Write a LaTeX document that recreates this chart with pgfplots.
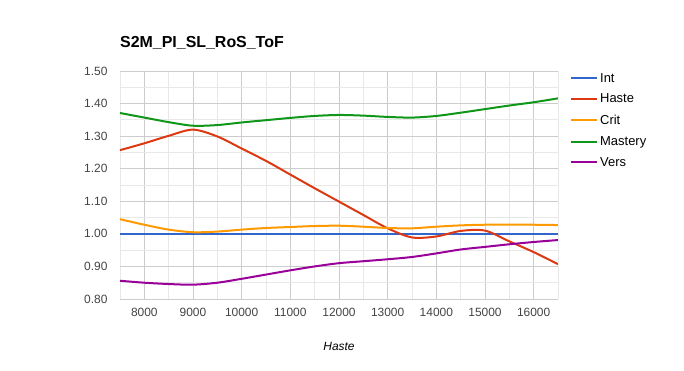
\documentclass[border=0pt]{standalone}
\usepackage{fontspec}
\setmainfont{Liberation Sans}
\usepackage{pgfplots}
\usepackage{pgfplotstable}
\pgfplotsset{compat=1.18}
\definecolor{cInt}{HTML}{3366CC}
\definecolor{cHaste}{HTML}{DC3912}
\definecolor{cCrit}{HTML}{FF9900}
\definecolor{cMast}{HTML}{109618}
\definecolor{cVers}{HTML}{990099}
\definecolor{tickgray}{HTML}{444444}

\pgfplotstableread{
x      Int   Haste  Crit   Mastery Vers
7500   1.00  1.257  1.045  1.371   0.856
8000   1.00  1.278  1.028  1.357   0.850
8500   1.00  1.301  1.013  1.343   0.846
9000   1.00  1.320  1.005  1.332   0.844
9500   1.00  1.299  1.007  1.334   0.850
10000  1.00  1.262  1.013  1.342   0.862
10500  1.00  1.224  1.018  1.349   0.875
11000  1.00  1.182  1.021  1.356   0.888
11500  1.00  1.140  1.024  1.362   0.900
12000  1.00  1.099  1.025  1.365   0.910
12500  1.00  1.058  1.022  1.363   0.916
13000  1.00  1.017  1.018  1.359   0.922
13500  1.00  0.989  1.017  1.357   0.929
14000  1.00  0.992  1.022  1.362   0.940
14500  1.00  1.009  1.026  1.372   0.952
15000  1.00  1.010  1.028  1.383   0.960
15500  1.00  0.977  1.028  1.394   0.968
16000  1.00  0.944  1.028  1.404   0.975
16500  1.00  0.907  1.027  1.416   0.981
}\datatable

\begin{document}
\begin{tikzpicture}
\path[use as bounding box] (-120bp,-72bp) rectangle (564bp,299bp);
\begin{axis}[
  at={(0,0)}, anchor=south west,
  scale only axis, width=438bp, height=228bp,
  xmin=7500, xmax=16500, ymin=0.8, ymax=1.5,
  xtick={8000,9000,10000,11000,12000,13000,14000,15000,16000},
  minor xtick={7500,8500,9500,10500,11500,12500,13500,14500,15500,16500},
  ytick={0.8,0.9,1.0,1.1,1.2,1.3,1.4,1.5},
  minor ytick={0.85,0.95,1.05,1.15,1.25,1.35,1.45},
  scaled x ticks=false,
  grid=both,
  major grid style={draw=black!20, line width=0.8bp},
  minor grid style={draw=black!9, line width=0.8bp},
  axis line style={draw=none},
  tick style={draw=none},
  /pgf/number format/assume math mode=true,
  x tick label style={/pgf/number format/1000 sep={}, font=\fontsize{12}{14}\selectfont, text=tickgray, yshift=-6bp},
  y tick label style={/pgf/number format/.cd, fixed, fixed zerofill, precision=2, /tikz/.cd, font=\fontsize{12}{14}\selectfont, text=tickgray, xshift=-9bp},
  xlabel={\itshape Haste},
  xlabel style={at={(axis description cs:0.5,0)}, anchor=base, yshift=-51bp, font=\fontsize{12}{14}\selectfont, text=black},
  legend style={at={(axis description cs:1,1)}, anchor=north west, xshift=12bp, yshift=0bp,
    draw=none, fill=none, font=\fontsize{13}{15}\selectfont, row sep=6.5bp, inner sep=0pt,
    /tikz/every even column/.append style={column sep=4bp}},
  legend cell align=left,
  legend image code/.code={\draw[#1] (0bp,0bp) -- (26bp,0bp);},
  every axis plot/.append style={line width=2bp},
]
\addplot[cInt] table[x=x, y=Int] {\datatable};
\addlegendentry{Int}
\addplot[cHaste, smooth, tension=0.5] table[x=x, y=Haste] {\datatable};
\addlegendentry{Haste}
\addplot[cCrit, smooth, tension=0.5] table[x=x, y=Crit] {\datatable};
\addlegendentry{Crit}
\addplot[cMast, smooth, tension=0.5] table[x=x, y=Mastery] {\datatable};
\addlegendentry{Mastery}
\addplot[cVers, smooth, tension=0.5] table[x=x, y=Vers] {\datatable};
\addlegendentry{Vers}
\end{axis}
\node[anchor=base west, inner sep=0pt, font=\fontsize{16}{18}\selectfont\bfseries] at (0bp,251bp) {S2M\_PI\_SL\_RoS\_ToF};
\end{tikzpicture}
\end{document}
